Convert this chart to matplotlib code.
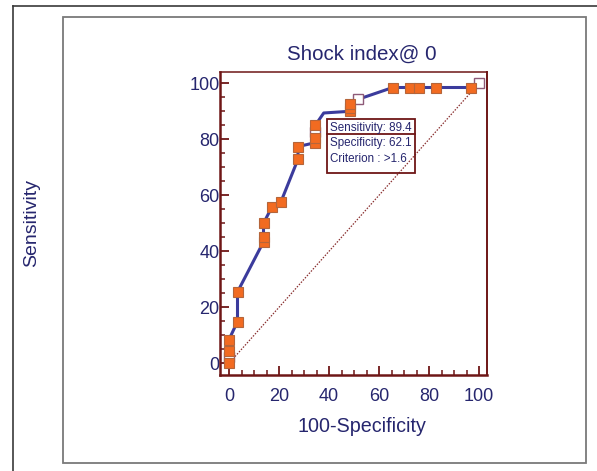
import matplotlib
matplotlib.use("Agg")
import matplotlib.pyplot as plt
from matplotlib import font_manager
from matplotlib.lines import Line2D
from matplotlib.patches import Rectangle
from matplotlib.ticker import MultipleLocator

# ---------------- data ----------------
fpr = [0, 0, 0, 0, 3.4, 3.4, 13.8, 13.8, 13.8, 17.2, 20.7, 27.6, 27.6,
       34.5, 34.5, 34.5, 34.5, 37.9, 48.3, 48.3, 48.3, 51.7,
       65.5, 72.4, 75.9, 82.8, 96.6, 100]
tpr = [0, 2.1, 4.3, 8.5, 14.9, 25.5, 43.4, 45.2, 50.0, 55.9, 57.5, 72.9, 77.4,
       78.8, 80.4, 82.7, 85.0, 89.4, 90.0, 91.2, 92.5, 94.3,
       98.5, 98.5, 98.5, 98.5, 98.5, 100]
# f = filled marker, h = hollow marker, n = no marker
kind = ['f', 'h', 'f', 'f', 'f', 'f', 'f', 'f', 'f', 'f', 'f', 'f', 'f',
        'f', 'f', 'h', 'f', 'n', 'f', 'f', 'f', 'h',
        'f', 'f', 'f', 'f', 'f', 'h']
ticks = [0, 20, 40, 60, 80, 100]
title = "Shock index@ 0"
xlabel = "100-Specificity"
ylabel = "Sensitivity"
box_lines = ["Sensitivity: 89.4", "Specificity: 62.1", "Criterion : >1.6"]

# ---------------- style ----------------
names = {f.name for f in font_manager.fontManager.ttflist}
main_font = "Liberation Sans" if "Liberation Sans" in names else "DejaVu Sans"
narrow = "Liberation Sans Narrow" if "Liberation Sans Narrow" in names else None

navy = "#26266e"
maroon = "#6e1616"
curve_c = "#3b3b9c"
orange = "#f26b21"
orange_edge = "#b5653a"
hollow_edge = "#8e5a78"

W, H = 597, 471
fig = plt.figure(figsize=(W / 100, H / 100), dpi=100)

def fx(px):
    return px / W

def fy(py):
    return 1 - py / H

# outer decorative frames
fig.add_artist(Line2D([fx(12.7), fx(12.7)], [fy(6), fy(471)], color="#3a3a3a", lw=1.2))
fig.add_artist(Line2D([fx(12.7), fx(597)], [fy(6), fy(6)], color="#3a3a3a", lw=1.2))
fig.add_artist(Rectangle((fx(63.3), fy(462.7)), fx(586.4) - fx(63.3), fy(17.3) - fy(462.7),
                         fill=False, edgecolor="#7a7a7a", lw=1.3))

# axes
ax_l, ax_r, ax_t, ax_b = 219.5, 486.7, 71.7, 375.0
ax = fig.add_axes([fx(ax_l), fy(ax_b), fx(ax_r) - fx(ax_l), fy(ax_t) - fy(ax_b)])
x0px, xs = 229.0, 2.5
y0px, ys = 363.3, 2.8
ax.set_xlim((ax_l - x0px) / xs, (ax_r - x0px) / xs)
ax.set_ylim((y0px - ax_b) / ys, (y0px - ax_t) / ys)

# diagonal reference
ax.plot([0, 100], [0, 100], color="#8a3030", lw=0.9, ls=(0, (1.2, 1.2)), zorder=2)
# ROC curve
ax.plot(fpr, tpr, color=curve_c, lw=2.2, zorder=3, solid_joinstyle="round")

hx = [x for x, k in zip(fpr, kind) if k == 'h']
hy = [y for y, k in zip(tpr, kind) if k == 'h']
ax.plot(hx, hy, ls="none", marker="s", ms=7.2, mfc="white", mec=hollow_edge, mew=1.0, zorder=4)
fxs = [x for x, k in zip(fpr, kind) if k == 'f']
fys = [y for y, k in zip(tpr, kind) if k == 'f']
ax.plot(fxs, fys, ls="none", marker="s", ms=6.8, mfc=orange, mec=orange_edge, mew=0.8, zorder=5)

# spines & ticks
for s in ax.spines.values():
    s.set_color(maroon)
ax.spines["left"].set_linewidth(1.8)
ax.spines["bottom"].set_linewidth(1.8)
ax.spines["top"].set_linewidth(1.1)
ax.spines["right"].set_linewidth(1.4)
ax.set_xticks(ticks)
ax.set_yticks(ticks)
ax.xaxis.set_minor_locator(MultipleLocator(5))
ax.yaxis.set_minor_locator(MultipleLocator(5))
ax.tick_params(which="major", direction="in", length=6.5, width=1.3, color=maroon,
               labelsize=13, labelcolor=navy)
ax.tick_params(which="minor", direction="in", length=3.5, width=1.1, color=maroon)
ax.tick_params(axis="x", which="major", pad=9.5)
ax.tick_params(axis="y", which="major", pad=0)
for lab in ax.get_xticklabels() + ax.get_yticklabels():
    lab.set_fontfamily(main_font)

# titles / labels
fig.text(fx(362), fy(54), title, ha="center", va="center", fontsize=14.8,
         color=navy, family=main_font)
fig.text(fx(362), fy(427), xlabel, ha="center", va="center", fontsize=14.2,
         color=navy, family=main_font)
fig.text(fx(32), fy(223), ylabel, ha="center", va="center", rotation=90,
         fontsize=14, color=navy, family=main_font)

# criterion box
bl, br, bt, bb, bdiv = 326.7, 415.0, 119.3, 172.7, 134.0
fig.add_artist(Rectangle((fx(bl), fy(bb)), fx(br) - fx(bl), fy(bt) - fy(bb),
                         fill=False, edgecolor=maroon, lw=1.3))
fig.add_artist(Line2D([fx(bl), fx(br)], [fy(bdiv), fy(bdiv)], color=maroon, lw=1.3))
if narrow:
    bfam, bsize = narrow, 10.3
else:
    bfam, bsize = main_font, 8.4
for txt, py in zip(box_lines, [127.8, 143.3, 159.3]):
    fig.text(fx(330), fy(py), txt, ha="left", va="center", fontsize=bsize,
             color=navy, family=bfam)

fig.savefig("out.png", dpi=100)
